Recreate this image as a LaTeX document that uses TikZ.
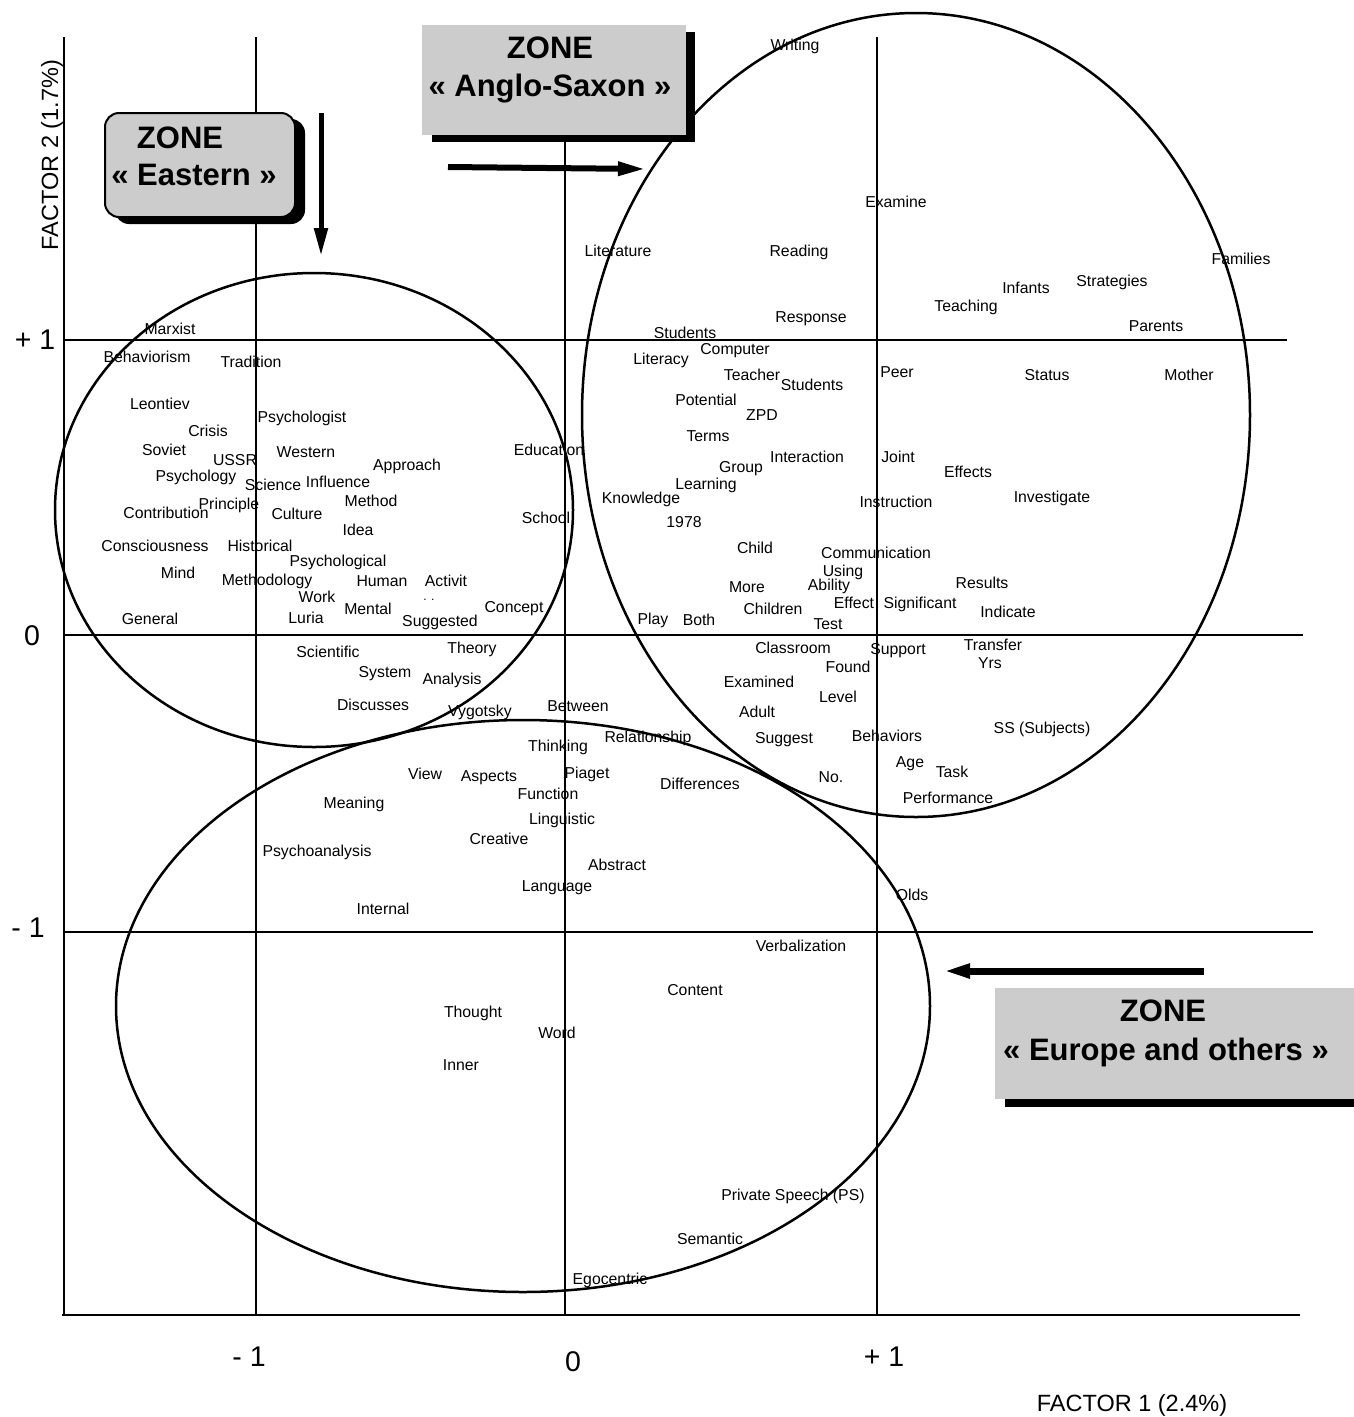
\documentclass[tikz,border=0pt]{standalone}
\usepackage{fontspec}
\setmainfont{Liberation Sans}
\usetikzlibrary{arrows.meta}
\definecolor{zonegray}{RGB}{204,204,204}
\begin{document}
\begin{tikzpicture}[x=1pt,y=-1pt,
  lbl/.style={font=\fontsize{15.8}{17}\selectfont,inner sep=0pt},
  ticklbl/.style={font=\fontsize{28.5}{31}\selectfont,inner sep=0pt},
  axlbl/.style={font=\fontsize{23.5}{27}\selectfont,inner sep=0pt},
  zt/.style={font=\bfseries\fontsize{31}{36}\selectfont,inner sep=0pt},
  gridline/.style={line width=1.1pt},
  axisline/.style={line width=2.6pt},
  zoneline/.style={line width=2.5pt},
  bigarrow/.style={line width=6pt,-{Triangle[length=28pt,width=13pt]}},
]
\useasboundingbox (0,0) rectangle (1354,1417);
\fill[white] (0,0) rectangle (1354,1417);

% grid lines
\draw[gridline] (64,340) -- (1287,340);
\draw[gridline] (64,635) -- (1303,635);
\draw[gridline] (64,932) -- (1313,932);
\draw[gridline] (256,37) -- (256,1315);
\draw[gridline] (565,37) -- (565,1315);
\draw[gridline] (877,37) -- (877,1315);
\draw[axisline] (64,37) -- (64,1315);
\draw[axisline] (62,1315) -- (1300,1315);

% zone ellipses
\draw[zoneline] (314,510) ellipse [x radius=259, y radius=237];
\draw[zoneline] (916,415) ellipse [x radius=334, y radius=402];
\draw[zoneline] (523,1006) ellipse [x radius=407, y radius=286];

% tick labels
\node[ticklbl] (tp1) at (35,340) {+ 1};
\node[ticklbl] (t0) at (32,636) {0};
\node[ticklbl] (tm1) at (28,928) {- 1};
\node[ticklbl] (bm1) at (249,1357) {- 1};
\node[ticklbl] (b0) at (573,1362) {0};
\node[ticklbl] (bp1) at (884,1357) {+ 1};
\node[axlbl] (f1) at (1132,1405) {FACTOR 1 (2.4\%)};
\node[axlbl,rotate=90] (f2) at (52,155) {FACTOR 2 (1.7\%)};

% Eastern zone box
\fill[black,rounded corners=14pt] (115,119) rectangle (305,224);
\node[draw,fill=zonegray,rounded corners=14pt,line width=2pt,minimum width=190pt,minimum height=104pt,inner sep=0pt] (eastbox) at (200,165) {};
\node[zt] (eastzone) at (180,138) {ZONE};
\node[zt] (eastname) at (194,175) {« Eastern »};
\coordinate (eastStart) at (321,113);
\coordinate (eastTip) at (321,256);
\draw[bigarrow,line width=5pt] (eastStart) -- (eastTip);

% Anglo-Saxon zone box
\fill[black] (432,32) rectangle (695,142);
\node[fill=zonegray,minimum width=264pt,minimum height=110pt,inner sep=0pt] (anglobox) at (554,80) {};
\node[zt] (anglozone) at (550,48) {ZONE};
\node[zt] (angloname) at (550,89) {« Anglo-Saxon »};
\coordinate (angloStart) at (448,167);
\coordinate (angloTip) at (646,169);
\draw[bigarrow] (angloStart) -- (angloTip);

% Europe zone box
\fill[black] (1005,1093) rectangle (1354,1107);
\node[fill=zonegray,minimum width=359pt,minimum height=111pt,inner sep=0pt] (eurobox) at (1174.5,1043.5) {};
\node[zt] (eurozone) at (1163,1011) {ZONE};
\node[zt] (euroname) at (1166,1052) {« Europe and others »};
\coordinate (euroStart) at (1204,971);
\coordinate (euroTip) at (942,971);
\draw[bigarrow,line width=7pt] (euroStart) -- (euroTip);

% Eastern words
\node[lbl] (wMarxist) at (170,329) {Marxist};
\node[lbl] (wBehaviorism) at (147,357) {Behaviorism};
\node[lbl] (wTradition) at (251,362) {Tradition};
\node[lbl] (wLeontiev) at (160,404) {Leontiev};
\node[lbl] (wPsychologist) at (302,418) {Psychologist};
\node[lbl] (wCrisis) at (208,431) {Crisis};
\node[lbl] (wSoviet) at (164,450) {Soviet};
\node[lbl] (wUSSR) at (235,460) {USSR};
\node[lbl] (wWestern) at (306,452) {Western};
\node[lbl] (wApproach) at (407,466) {Approach};
\node[lbl] (wEducation) at (549,450) {Education};
\node[lbl] (wPsychology) at (196,477) {Psychology};
\node[lbl] (wScience) at (273,485) {Science};
\node[lbl] (wInfluence) at (338,482) {Influence};
\node[lbl] (wMethod) at (371,501) {Method};
\node[lbl] (wPrinciple) at (229,505) {Principle};
\node[lbl] (wContribution) at (166,513) {Contribution};
\node[lbl] (wCulture) at (297,514) {Culture};
\node[lbl] (wSchool) at (546,518) {School};
\node[lbl] (wIdea) at (358,530) {Idea};
\node[lbl] (wConsciousness) at (155,546) {Consciousness};
\node[lbl] (wHistorical) at (260,546) {Historical};
\node[lbl] (wPsychological) at (338,562) {Psychological};
\node[lbl] (wMind) at (178,573) {Mind};
\node[lbl] (wMethodology) at (267,581) {Methodology};
\node[lbl] (wHuman) at (382,581) {Human};
\node[lbl] (wActivit) at (446,581) {Activit};
\node[lbl,font=\fontsize{12}{13}\selectfont] (wDots) at (429,600) {. .};
\node[lbl] (wWork) at (317,597) {Work};
\node[lbl] (wMental) at (368,609) {Mental};
\node[lbl] (wConcept) at (514,609) {Concept};
\node[lbl] (wGeneral) at (150,619) {General};
\node[lbl] (wLuria) at (306,618) {Luria};
\node[lbl] (wSuggested) at (440,622) {Suggested};
\node[lbl] (wScientific) at (328,652) {Scientific};
\node[lbl] (wTheory) at (472,649) {Theory};
\node[lbl] (wSystem) at (385,674) {System};
\node[lbl] (wAnalysis) at (452,680) {Analysis};
\node[lbl] (wDiscusses) at (373,705) {Discusses};
\node[lbl] (wVygotsky) at (480,712) {Vygotsky};
\node[lbl] (wBetween) at (578,706) {Between};

% Anglo-Saxon words
\node[lbl] (wWriting) at (795,46) {Writing};
\node[lbl] (wExamine) at (896,202) {Examine};
\node[lbl] (wLiterature) at (618,251) {Literature};
\node[lbl] (wReading) at (799,252) {Reading};
\node[lbl] (wFamilies) at (1241,259) {Families};
\node[lbl] (wStrategies) at (1112,282) {Strategies};
\node[lbl] (wInfants) at (1026,288) {Infants};
\node[lbl] (wTeaching) at (966,307) {Teaching};
\node[lbl] (wResponse) at (811,319) {Response};
\node[lbl] (wStudentsA) at (685,333) {Students};
\node[lbl] (wParents) at (1156,326) {Parents};
\node[lbl] (wLiteracy) at (661,360) {Literacy};
\node[lbl] (wComputer) at (735,351) {Computer};
\node[lbl] (wTeacher) at (752,375) {Teacher};
\node[lbl] (wStudentsB) at (812,385) {Students};
\node[lbl] (wPeer) at (897,372) {Peer};
\node[lbl] (wStatus) at (1047,375) {Status};
\node[lbl] (wMother) at (1189,375) {Mother};
\node[lbl] (wPotential) at (706,400) {Potential};
\node[lbl] (wZPD) at (762,415) {ZPD};
\node[lbl] (wTerms) at (708,436) {Terms};
\node[lbl] (wInteraction) at (807,457) {Interaction};
\node[lbl] (wJoint) at (898,457) {Joint};
\node[lbl] (wGroup) at (741,469) {Group};
\node[lbl] (wEffects) at (968,472) {Effects};
\node[lbl] (wLearning) at (706,485) {Learning};
\node[lbl] (wKnowledge) at (641,499) {Knowledge};
\node[lbl] (wInstruction) at (896,502) {Instruction};
\node[lbl] (wInvestigate) at (1052,498) {Investigate};
\node[lbl] (w1978) at (684,522) {1978};
\node[lbl] (wChild) at (755,548) {Child};
\node[lbl] (wCommunication) at (876,553) {Communication};
\node[lbl] (wUsing) at (843,572) {Using};
\node[lbl] (wAbility) at (829,586) {Ability};
\node[lbl] (wMore) at (747,587) {More};
\node[lbl] (wResults) at (982,583) {Results};
\node[lbl] (wEffect) at (854,603) {Effect};
\node[lbl] (wSignificant) at (920,604) {Significant};
\node[lbl] (wChildren) at (773,609) {Children};
\node[lbl] (wIndicate) at (1008,612) {Indicate};
\node[lbl] (wPlay) at (653,620) {Play};
\node[lbl] (wBoth) at (699,620) {Both};
\node[lbl] (wTest) at (828,624) {Test};
\node[lbl] (wClassroom) at (793,648) {Classroom};
\node[lbl] (wSupport) at (898,651) {Support};
\node[lbl] (wTransfer) at (993,645) {Transfer};
\node[lbl] (wYrs) at (990,663) {Yrs};
\node[lbl] (wFound) at (848,667) {Found};
\node[lbl] (wExamined) at (759,682) {Examined};
\node[lbl] (wLevel) at (838,697) {Level};
\node[lbl] (wAdult) at (757,712) {Adult};
\node[lbl] (wSS) at (1042,729) {SS (Subjects)};
\node[lbl] (wRelationship) at (648,738) {Relationship};
\node[lbl] (wSuggest) at (784,740) {Suggest};
\node[lbl] (wBehaviors) at (887,736) {Behaviors};
\node[lbl] (wAge) at (910,764) {Age};
\node[lbl] (wTask) at (952,772) {Task};
\node[lbl] (wNo) at (831,777) {No.};
\node[lbl] (wPerformance) at (948,798) {Performance};

% Europe words
\node[lbl] (wThinking) at (558,747) {Thinking};
\node[lbl] (wPiaget) at (587,774) {Piaget};
\node[lbl] (wView) at (425,774) {View};
\node[lbl] (wAspects) at (489,778) {Aspects};
\node[lbl] (wDifferences) at (700,784) {Differences};
\node[lbl] (wFunction) at (548,794) {Function};
\node[lbl] (wMeaning) at (354,804) {Meaning};
\node[lbl] (wLinguistic) at (562,820) {Linguistic};
\node[lbl] (wCreative) at (499,839) {Creative};
\node[lbl] (wPsychoanalysis) at (317,852) {Psychoanalysis};
\node[lbl] (wAbstract) at (617,865) {Abstract};
\node[lbl] (wLanguage) at (557,888) {Language};
\node[lbl] (wOlds) at (912,895) {Olds};
\node[lbl] (wInternal) at (383,909) {Internal};
\node[lbl] (wVerbalization) at (801,946) {Verbalization};
\node[lbl] (wContent) at (695,990) {Content};
\node[lbl] (wThought) at (473,1013) {Thought};
\node[lbl] (wWord) at (557,1033) {Word};
\node[lbl] (wInner) at (461,1065) {Inner};
\node[lbl] (wPrivate) at (793,1196) {Private Speech (PS)};
\node[lbl] (wSemantic) at (710,1239) {Semantic};
\node[lbl] (wEgocentric) at (610,1280) {Egocentric};
\end{tikzpicture}
\end{document}
